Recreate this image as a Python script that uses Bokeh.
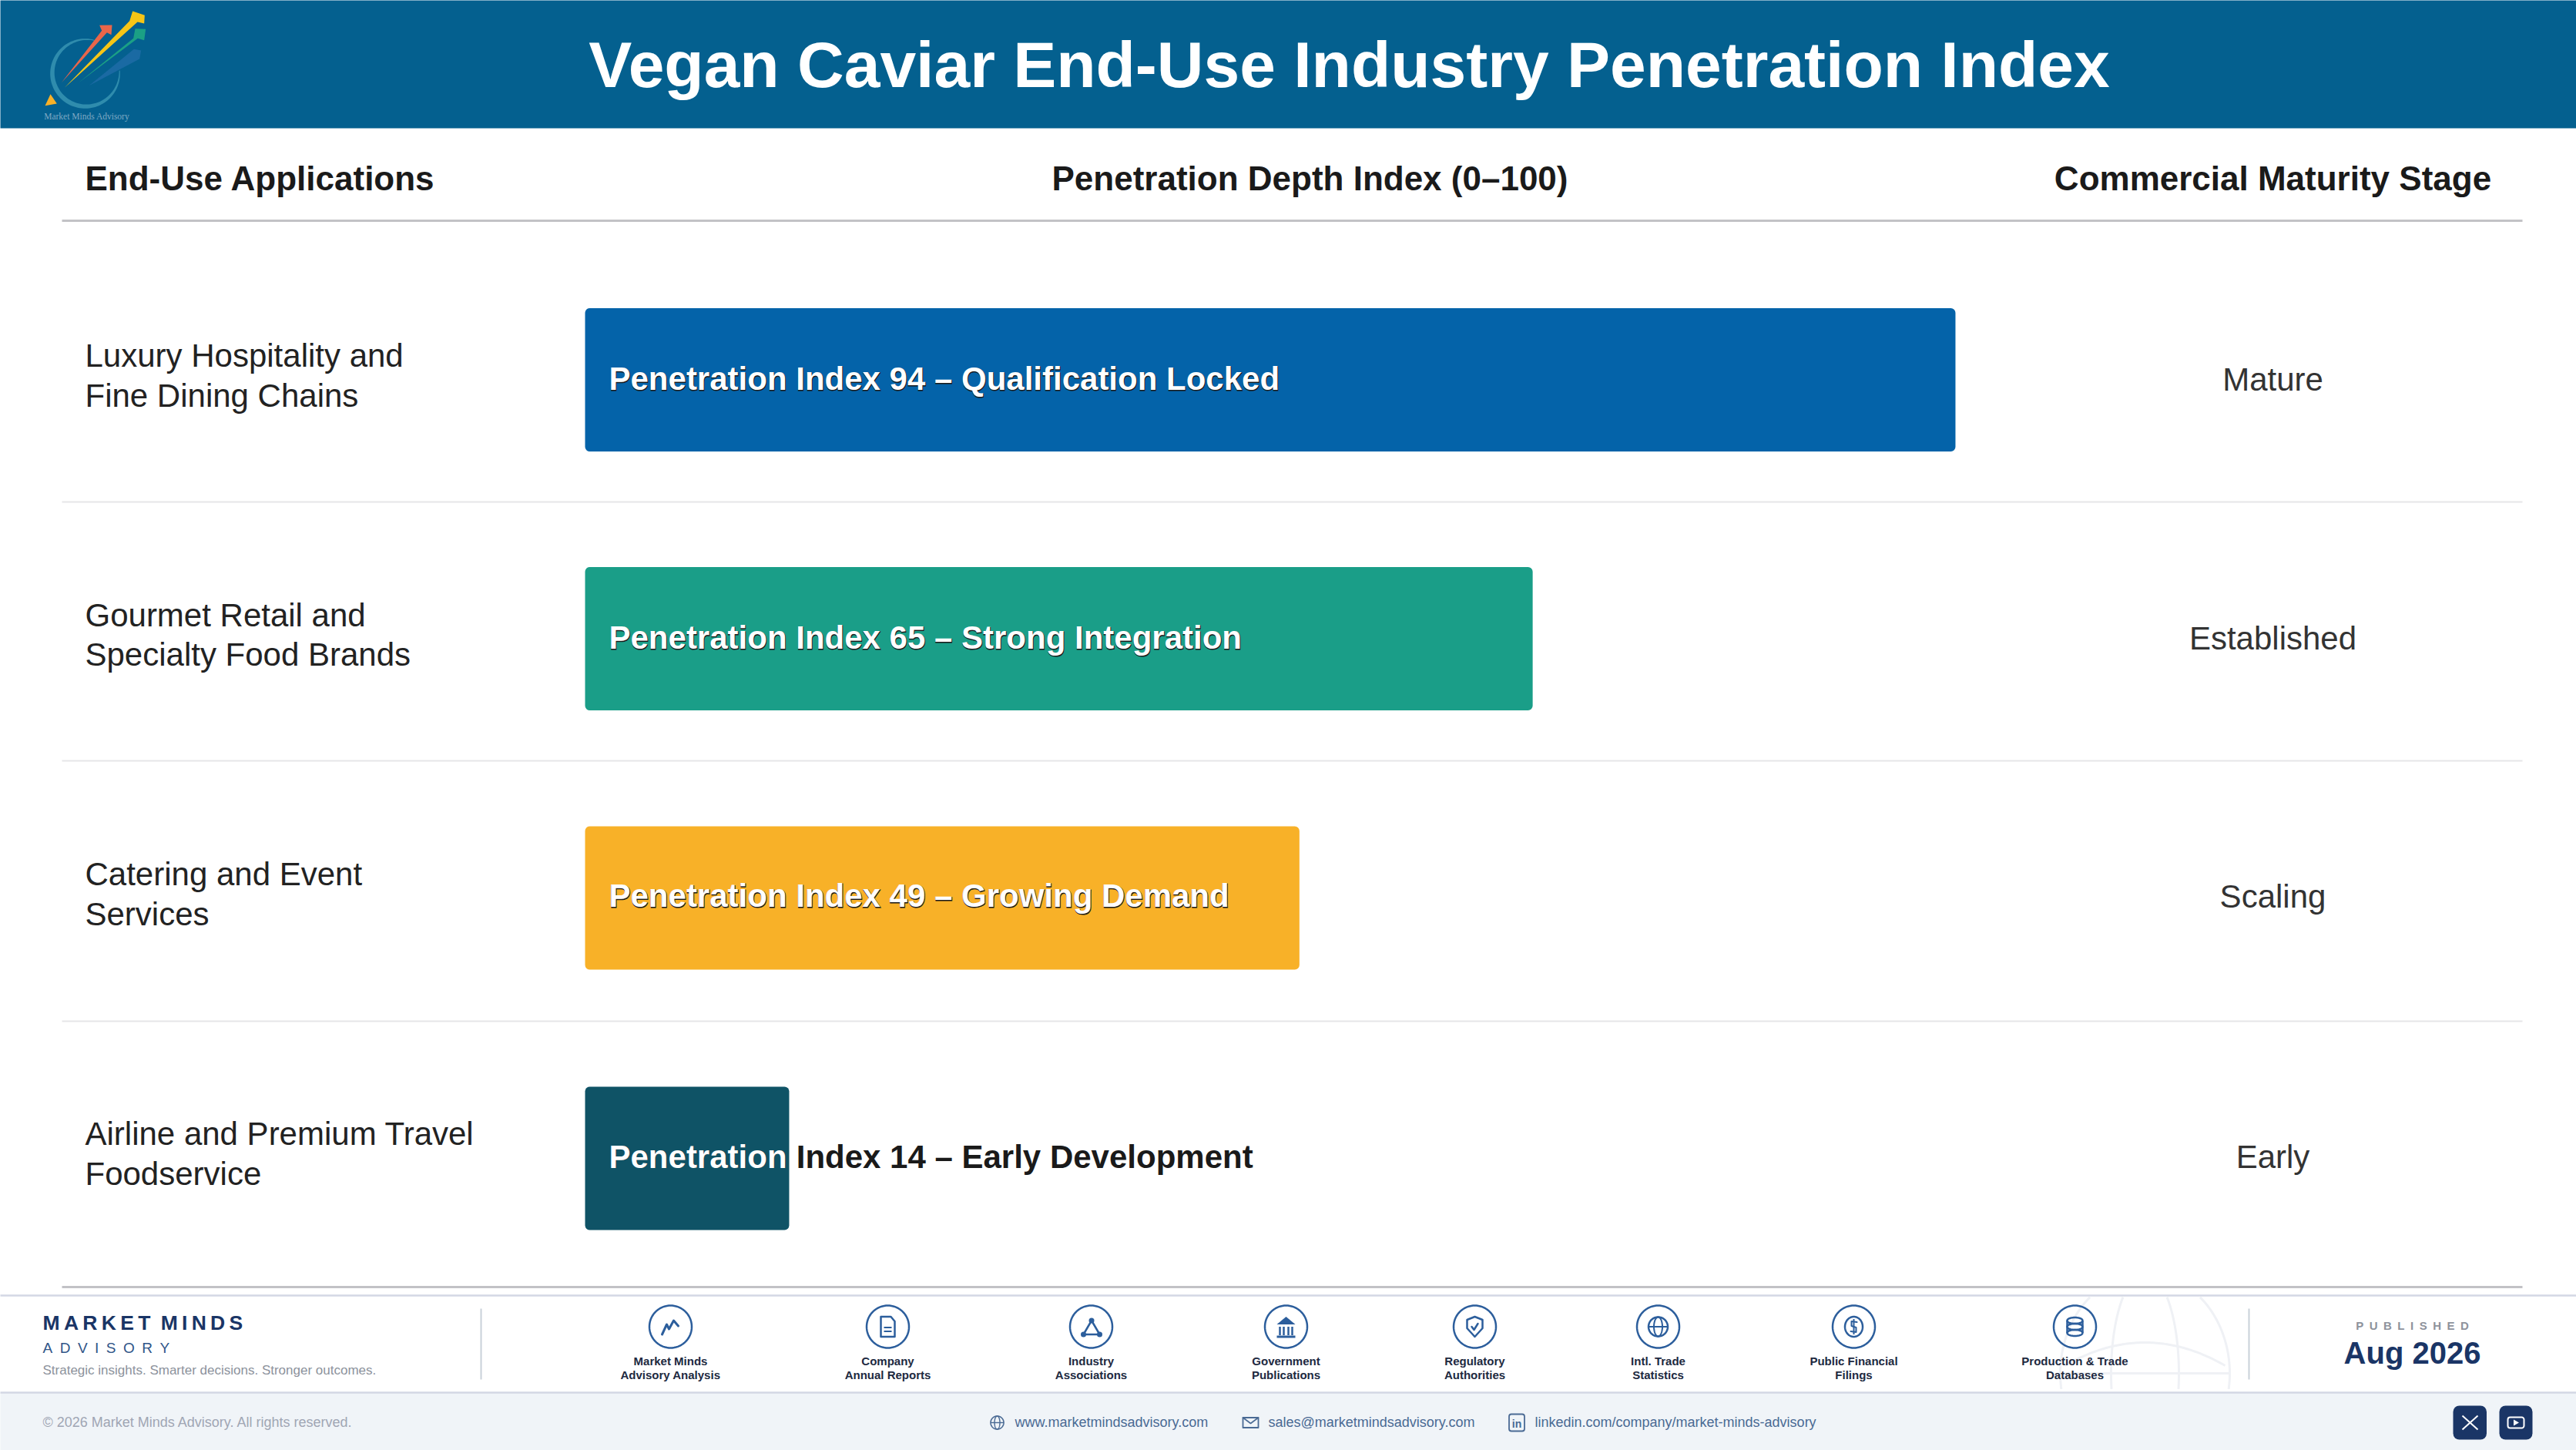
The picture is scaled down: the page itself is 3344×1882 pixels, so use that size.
import numpy as np
from bokeh.plotting import figure
from bokeh.models import Range1d
from bokeh.core.properties import value
from bokeh.embed import file_html
from bokeh.resources import INLINE

# ---------- data ----------
TITLE = "Vegan Caviar End-Use Industry Penetration Index"
COLUMN_HEADS = ["End-Use Applications", "Penetration Depth Index (0–100)", "Commercial Maturity Stage"]
applications = [["Luxury Hospitality and", "Fine Dining Chains"],
                ["Gourmet Retail and", "Specialty Food Brands"],
                ["Catering and Event", "Services"],
                ["Airline and Premium Travel", "Foodservice"]]
penetration_index = [94, 65, 49, 14]
bar_notes = ["Qualification Locked", "Strong Integration", "Growing Demand", "Early Development"]
white_part = [None, None, None, "Penetration"]
maturity_stage = ["Mature", "Established", "Scaling", "Early"]
bar_colors = ["#0463A9", "#1A9E88", "#F8B128", "#0F5366"]
sources = [["Market Minds", "Advisory Analysis"], ["Company", "Annual Reports"], ["Industry", "Associations"],
           ["Government", "Publications"], ["Regulatory", "Authorities"], ["Intl. Trade", "Statistics"],
           ["Public Financial", "Filings"], ["Production & Trade", "Databases"]]

# ---------- layout ----------
W, H = 3344, 1882
FONT = "Liberation Sans"
BAND = "#04608F"
NAVY = "#1A3566"
ICON = "#2C5E9C"
BAR_X0 = 759.0
PX_PER_UNIT = 18.925
row_centers = [492.5, 828.5, 1165.0, 1503.0]
text_centers = [491, 827, 1162, 1500.5]
label_lines = [(461, 513), (798, 849), (1134, 1186), (1471, 1523)]
BAR_H = 186
source_x = [870, 1152, 1416, 1669, 1914, 2152, 2406, 2693]
ICON_Y = 1721.5

p = figure(width=W, height=H, output_backend="svg", toolbar_location=None,
           x_range=Range1d(0, W), y_range=Range1d(H, 0),
           x_axis_location=None, y_axis_location=None, min_border=0, outline_line_color=None)
p.grid.visible = False
p.background_fill_color = "white"
p.border_fill_color = "white"
p.extra_x_ranges["index"] = Range1d(-BAR_X0 / PX_PER_UNIT, (W - BAR_X0) / PX_PER_UNIT)
p.stylesheets = [":host{position:absolute !important;left:0;top:0;}"]


def txt(x, y, s, size, color="#1a1a1a", bold=False, align="left", xo=0, yo=0, font=FONT, outline=None):
    p.text([x], [y], text=[s], text_font=value(font), text_font_size=value(f"{size}px"),
           text_color=color, text_font_style="bold" if bold else "normal",
           text_align=align, text_baseline="middle", x_offset=xo, y_offset=yo,
           text_outline_color=outline)


def hline(x0, x1, y, color, w):
    p.line([x0, x1], [y, y], line_color=color, line_width=w)


def poly(points, cx=0.0, cy=0.0, fill=None, line=None, lw=2.5, closed=False):
    xs = [cx + a for a, _ in points]
    ys = [cy + b for _, b in points]
    if fill:
        p.patch(xs, ys, fill_color=fill, line_color=None)
    if line:
        if closed:
            xs, ys = xs + xs[:1], ys + ys[:1]
        p.line(xs, ys, line_color=line, line_width=lw, line_join="round", line_cap="round")


def ell(cx, cy, rx, ry, color=ICON, lw=2.5):
    t = np.linspace(0, 2 * np.pi, 73)
    p.line(cx + rx * np.cos(t), cy + ry * np.sin(t), line_color=color, line_width=lw)


# ---------- header band ----------
p.quad(left=[-20], right=[W + 20], top=[-20], bottom=[166], fill_color=BAND, line_color=None)
txt(1751, 83, TITLE, 84, "white", True, "center")

# logo (decorative, in zoomed-crop coordinates)
def lx(z): return 40 + z / 3
def logo(points, color):
    p.patch([lx(a) for a, _ in points], [b / 3 for _, b in points], fill_color=color, line_color=None)

frac = np.linspace(0, 1, 90)
t = np.radians(-75 - 290 * frac)
thick = 3 + 15 * np.sin(np.pi * frac)
ox = 210 + 136 * np.cos(t); oy = 285 + 136 * np.sin(t)
ix = 210 + (136 - thick) * np.cos(t); iy = 285 + (136 - thick) * np.sin(t)
logo(list(zip(np.r_[ox, ix[::-1]], np.r_[oy, iy[::-1]])), "#2F8CAD")
logo([(225, 332), (400, 190), (428, 195), (422, 228)], "#1A6AA3")
logo([(183, 322), (398, 148), (405, 110), (446, 112), (440, 155), (415, 148)], "#1BA085")
logo([(130, 340), (383, 80), (395, 42), (442, 58), (440, 90), (414, 84)], "#F6C516")
logo([(118, 320), (275, 118), (266, 97), (315, 96), (312, 134), (295, 125)], "#E9664A")
logo([(75, 365), (100, 402), (54, 410)], "#F8B128")
txt(lx(50), 150.5, "Market Minds Advisory", 11.5, "#7FA9C4", font="Liberation Serif")

# ---------- column heads ----------
txt(110, 231, COLUMN_HEADS[0], 44, "#1a1a1a", True)
txt(1700, 231, COLUMN_HEADS[1], 44, "#1a1a1a", True, "center")
txt(2950, 231, COLUMN_HEADS[2], 44, "#1a1a1a", True, "center")
hline(80, 3274, 286, "#C2C2C6", 3)

# ---------- rows ----------
for y in (651, 987, 1325):
    hline(80, 3274, y, "#E6E6E8", 2)
hline(80, 3274, 1670, "#C2C2C6", 3)

p.quad(left=[0] * 4, right=penetration_index,
       top=[c - BAR_H / 2 for c in row_centers], bottom=[c + BAR_H / 2 for c in row_centers],
       fill_color=bar_colors, line_color=None, x_range_name="index", border_radius=6)

for app, v, note, wp, stage, tc, lines in zip(applications, penetration_index, bar_notes, white_part,
                                              maturity_stage, text_centers, label_lines):
    txt(110, lines[0], app[0], 42, "#222222")
    txt(110, lines[1], app[1], 42, "#222222")
    label = f"Penetration Index {v} – {note}"
    txt(790, tc, label, 42, "#1a1a1a", True, xo=0.5, yo=0.5, outline=None if wp else "#1a1a1a")
    txt(790, tc, wp if wp else label, 42, "white", True)
    txt(2950, tc + 0.5, stage, 42, "#333333", align="center")

# ---------- footer ----------
p.quad(left=[-20], right=[W + 20], top=[1807], bottom=[H + 20], fill_color="#F0F4F8", line_color=None)
hline(-20, W + 20, 1681, "#D3D7E4", 2.5)
hline(-20, W + 20, 1807, "#D3D7E4", 2.5)

# watermark globe, clipped to the white strip
GX, GY = 2784, 1782
def clip_line(x, y):
    y = np.array(y, dtype=float)
    x = np.array(x, dtype=float)
    bad = (y < 1683) | (y > 1805)
    x[bad] = np.nan
    y[bad] = np.nan
    p.line(x, y, line_color="#EFF1F5", line_width=3)
t = np.linspace(0, 2 * np.pi, 241)
clip_line(GX + 110 * np.cos(t), GY + 130 * np.sin(t))
clip_line(GX + 44 * np.cos(t), GY + 130 * np.sin(t))
hline(GX - 110, GX + 110, GY, "#EFF1F5", 3)
tt = np.linspace(-1, 1, 81)
clip_line(GX + 104 * tt, 1742 + 30 * tt ** 2)

txt(55, 1716, "M\u2009A\u2009R\u2009K\u2009E\u2009T\u2002M\u2009I\u2009N\u2009D\u2009S", 26.5, NAVY, True)
txt(55, 1749, "A\u2002D\u2002V\u2002I\u2002S\u2002O\u2002R\u2002Y", 19, "#2F5588")
txt(55, 1778, "Strategic insights. Smarter decisions. Stronger outcomes.", 17, "#8C929C")
p.line([624, 624], [1698, 1790], line_color="#C9D1D9", line_width=2)
p.line([2919, 2919], [1698, 1790], line_color="#C9D1D9", line_width=2)
txt(3131, 1720, "P\u2002U\u2002B\u2002L\u2002I\u2002S\u2002H\u2002E\u2002D", 15, "#8E939C", True, "center")
txt(3131, 1755.5, "Aug 2026", 40, NAVY, True, "center")

for x, lab in zip(source_x, sources):
    ell(x, ICON_Y, 27.5, 27.5)
    txt(x, 1765.5, lab[0], 15, "#20293F", True, "center")
    txt(x, 1783.5, lab[1], 15, "#20293F", True, "center")

# icon glyphs
c = source_x
poly([(-11, 10), (-5, -3), (-2, 3), (4, -8), (10, -1)], c[0], ICON_Y, line=ICON, lw=3)
poly([(-9, -13), (4, -13), (9, -7), (9, 13), (-9, 13)], c[1], ICON_Y, line=ICON, closed=True)
hline(c[1] - 5, c[1] + 5, ICON_Y + 1, ICON, 2); hline(c[1] - 5, c[1] + 5, ICON_Y + 6, ICON, 2)
poly([(0.5, -8), (-10, 10), (11, 10)], c[2], ICON_Y, line=ICON, closed=True, lw=2.5)
p.scatter([c[2] + .5, c[2] - 10, c[2] + 11], [ICON_Y - 8, ICON_Y + 10, ICON_Y + 10], size=7, fill_color=ICON, line_color=None)
poly([(0, -13), (-12, -3), (12, -3)], c[3], ICON_Y, fill=ICON)
for dx in (-8, -3, 3, 8):
    p.line([c[3] + dx] * 2, [ICON_Y, ICON_Y + 11], line_color=ICON, line_width=2.5)
hline(c[3] - 12, c[3] + 12, ICON_Y + 13, ICON, 3)
poly([(0, -13), (10, -9), (10, 2), (0, 13), (-10, 2), (-10, -9)], c[4], ICON_Y, line=ICON, closed=True)
poly([(-4, 0), (-1, 4), (4, -4)], c[4], ICON_Y, line=ICON, lw=2.5)
ell(c[5], ICON_Y, 12.5, 12.5); ell(c[5], ICON_Y, 5.5, 12.5, lw=2)
hline(c[5] - 12, c[5] + 12, ICON_Y, ICON, 2)
ell(c[6], ICON_Y, 11.5, 13)
poly([(4, -6), (-3, -7), (-3, -1), (3, 1), (3, 7), (-4, 6)], c[6], ICON_Y, line=ICON, lw=2)
p.line([c[6]] * 2, [ICON_Y - 10, ICON_Y + 10], line_color=ICON, line_width=2)
for dy in (-8, 0, 8):
    ell(c[7], ICON_Y + dy, 10, 4)
p.line([c[7] - 10] * 2, [ICON_Y - 8, ICON_Y + 8], line_color=ICON, line_width=2.5)
p.line([c[7] + 10] * 2, [ICON_Y - 8, ICON_Y + 8], line_color=ICON, line_width=2.5)

# contact row
CONTACT = "#4A6A94"
txt(55, 1845, "© 2026 Market Minds Advisory. All rights reserved.", 18, "#A0A6B4")
ell(1294, 1846, 8.5, 8.5, CONTACT, 1.6); ell(1294, 1846, 3.5, 8.5, CONTACT, 1.4)
hline(1285.5, 1302.5, 1846, CONTACT, 1.4)
txt(1317, 1845, "www.marketmindsadvisory.com", 18, CONTACT)
poly([(-10, -6.5), (10, -6.5), (10, 6.5), (-10, 6.5)], 1623, 1846, line=CONTACT, closed=True, lw=1.8)
poly([(-10, -6.5), (0, 1), (10, -6.5)], 1623, 1846, line=CONTACT, lw=1.6)
txt(1646, 1845, "sales@marketmindsadvisory.com", 18, CONTACT)
p.quad(left=[1958.5], right=[1978.5], top=[1835], bottom=[1857], fill_color=None, line_color=CONTACT,
       line_width=1.8, border_radius=3)
txt(1968.5, 1847, "in", 14, CONTACT, True, "center")
txt(1992, 1845, "linkedin.com/company/market-minds-advisory", 18, CONTACT)

p.quad(left=[3184, 3244], right=[3227.5, 3287], top=[1824, 1824], bottom=[1868, 1868],
       fill_color=NAVY, line_color=None, border_radius=8)
p.line([3196, 3216], [1837, 1855], line_color="white", line_width=2)
p.line([3216, 3196], [1837, 1855], line_color="white", line_width=2)
p.quad(left=[3255], right=[3276], top=[1839], bottom=[1853], fill_color=None, line_color="white",
       line_width=2, border_radius=3)
poly([(-3, -4), (4, 0), (-3, 4)], 3265.5, 1846, fill="white")

open("out.html", "w").write(file_html(p, INLINE))
